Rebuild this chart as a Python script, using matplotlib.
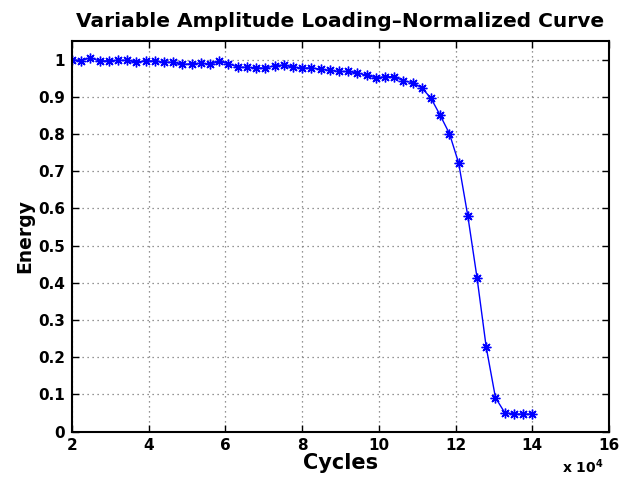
import matplotlib
matplotlib.use("Agg")
import matplotlib.pyplot as plt

# Cycles (x 10^4)
cycles = [2.00, 2.24, 2.48, 2.72, 2.96, 3.20, 3.44, 3.68, 3.92, 4.16,
          4.40, 4.64, 4.88, 5.12, 5.36, 5.60, 5.84, 6.08, 6.32, 6.56,
          6.80, 7.04, 7.28, 7.52, 7.76, 8.00, 8.24, 8.48, 8.72, 8.96,
          9.20, 9.44, 9.68, 9.92, 10.16, 10.40, 10.64, 10.88, 11.12, 11.36,
          11.60, 11.84, 12.08, 12.32, 12.56, 12.80, 13.04, 13.28, 13.52, 13.76,
          14.00]
energy = [1.000, 0.997, 1.005, 0.996, 0.997, 0.998, 0.998, 0.993, 0.997, 0.996,
          0.993, 0.993, 0.987, 0.989, 0.990, 0.988, 0.995, 0.989, 0.980, 0.979,
          0.978, 0.977, 0.984, 0.985, 0.980, 0.977, 0.978, 0.974, 0.971, 0.968,
          0.968, 0.964, 0.958, 0.951, 0.954, 0.954, 0.943, 0.938, 0.924, 0.896,
          0.850, 0.801, 0.722, 0.579, 0.413, 0.226, 0.091, 0.051, 0.047, 0.047,
          0.047]

xticks = [2, 4, 6, 8, 10, 12, 14, 16]
yticks = [0, 0.1, 0.2, 0.3, 0.4, 0.5, 0.6, 0.7, 0.8, 0.9, 1]
ytick_labels = ["0", "0.1", "0.2", "0.3", "0.4", "0.5", "0.6", "0.7", "0.8", "0.9", "1"]

plt.rcParams['font.family'] = ['DejaVu Sans']
plt.rcParams['font.weight'] = 'bold'

fig = plt.figure(figsize=(6.27, 4.78), dpi=100)
ax = fig.add_axes([72/627, 1 - 431.5/478, (609 - 72)/627, (431.5 - 41)/478])

ax.plot(cycles, energy, color='#0000ff', linestyle='-', linewidth=1.0,
        marker=(8, 2, 0), markersize=7, markeredgewidth=1.0)

ax.set_xlim(2, 16)
ax.set_ylim(0, 1.05)
ax.set_xticks(xticks)
ax.set_xticklabels([str(t) for t in xticks])
ax.set_yticks(yticks)
ax.set_yticklabels(ytick_labels)

ax.grid(True, linestyle=(0, (1, 3)), color='0.45', linewidth=0.9)
ax.tick_params(direction='in', length=5, width=1, top=True, right=True,
               labelsize=11, pad=5)
for lbl in ax.get_xticklabels() + ax.get_yticklabels():
    lbl.set_fontweight('bold')
for s in ax.spines.values():
    s.set_linewidth(1.5)

ax.set_title("Variable Amplitude Loading\u2013Normalized Curve",
             fontsize=14.5, fontweight='bold', pad=10)
ax.set_xlabel("Cycles", fontsize=15, fontweight='bold', labelpad=0)
ax.set_ylabel("Energy", fontsize=13.5, fontweight='bold', labelpad=3)

fig.text(583/627, 1 - 467/478, r"x 10$^{\mathbf{4}}$", fontsize=10,
         fontweight='bold', ha='center', va='center')

fig.savefig("out.png", dpi=100)
